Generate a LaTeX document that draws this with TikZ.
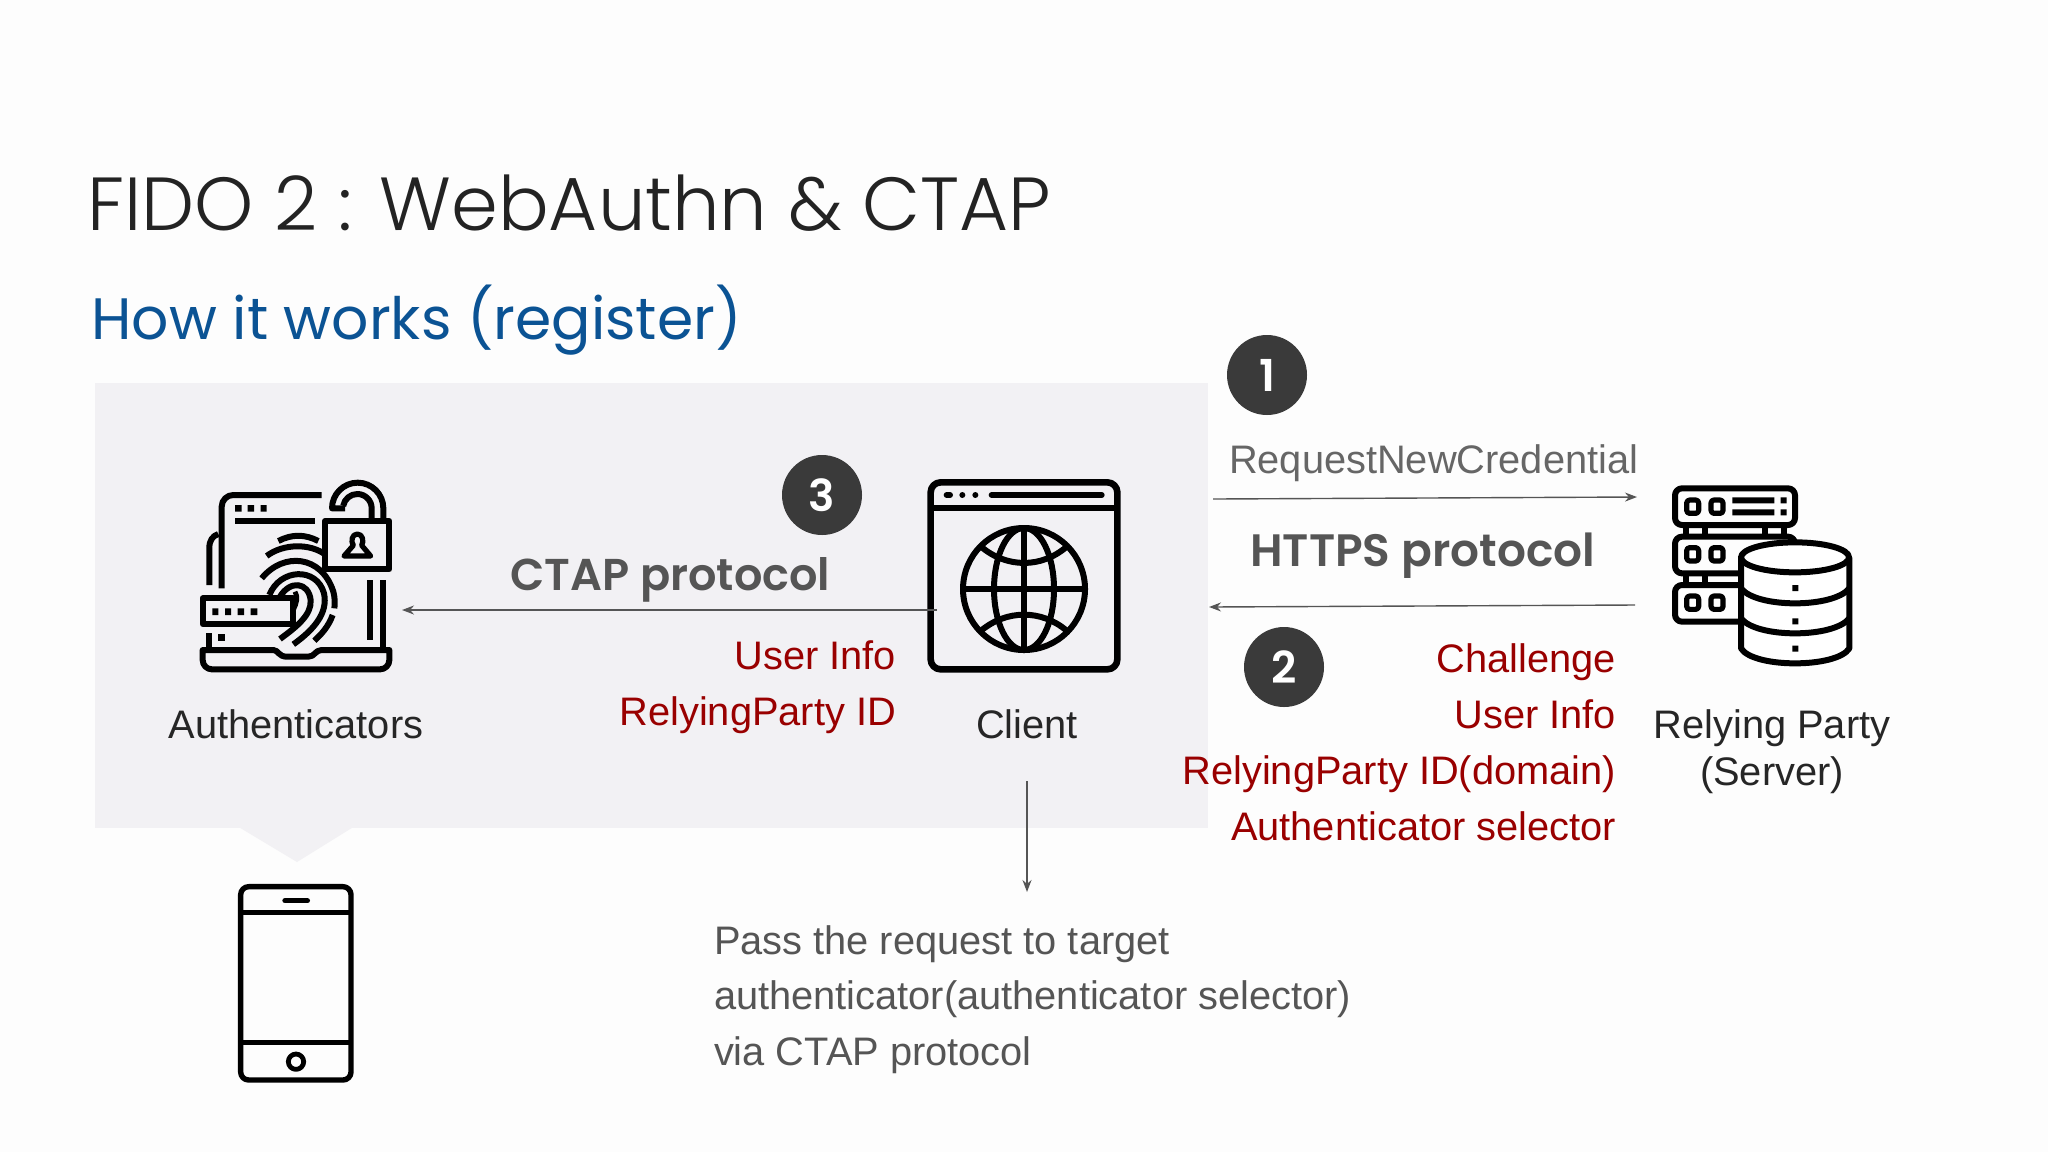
\documentclass[tikz,border=0pt]{standalone}
\usepackage{fontspec}
\usetikzlibrary{arrows.meta}
\setmainfont{Liberation Sans}
\newfontfamily\headlight{Poppins Light}
\newfontfamily\headreg{Poppins}
\newfontfamily\headbold{Poppins SemiBold}
\definecolor{panelc}{HTML}{F2F1F4}
\definecolor{bgc}{HTML}{FDFDFD}
\definecolor{titlec}{HTML}{232323}
\definecolor{subc}{HTML}{0B5394}
\definecolor{redc}{HTML}{990000}
\definecolor{grayc}{HTML}{555555}
\definecolor{lgrayc}{HTML}{666666}
\definecolor{circc}{HTML}{3A3A3A}
\definecolor{arrowc}{HTML}{555555}
\tikzset{
  body/.style={font=\fontsize{19.9}{24}\selectfont,inner sep=0pt,outer sep=0pt},
  lbl/.style={body,anchor=base,text=black!85},
  redr/.style={body,anchor=base east,text=redc},
  passl/.style={body,anchor=base west,text=grayc},
  badge/.style={circle,fill=circc,minimum size=40pt,inner sep=0pt,text=white,font=\headbold\fontsize{22}{24}\selectfont},
  conn/.style={draw=arrowc,line width=0.7pt,-{Stealth[length=6pt,width=4.5pt]}},
  ik/.style={draw=black,line width=3pt,line cap=butt,line join=round},
  iks/.style={fill=black},
}
\begin{document}
\begin{tikzpicture}[x=0.5pt,y=-0.5pt]
\useasboundingbox (0,0) rectangle (2048,1152);
\fill[bgc] (0,0) rectangle (2048,1152);
\fill[panelc] (95,383) rectangle (1208,828);
\fill[panelc] (237,826) -- (297,862) -- (355,826) -- cycle;

\node[anchor=base west,inner sep=0pt,text=titlec,font=\headlight\fontsize{37.6}{44}\selectfont] (title) at (87,230) {FIDO 2 : WebAuthn \& CTAP};
\node[anchor=base west,inner sep=0pt,text=subc,font=\headreg\fontsize{29.2}{34}\selectfont] (sub) at (91,339) {How it works (register)};

\node[badge] (b1) at (1267,375) {1};
\node[badge] (b3) at (822,495) {3};
\node[badge] (b2) at (1284,667) {2};

\node[anchor=base west,body,text=lgrayc] (req) at (1229,473) {RequestNewCredential};
\node[anchor=base west,inner sep=0pt,text=grayc,font=\headbold\fontsize{22.7}{26}\selectfont] (https) at (1250,566) {HTTPS protocol};
\node[anchor=base west,inner sep=0pt,text=grayc,font=\headbold\fontsize{22.3}{26}\selectfont] (ctap) at (510,590) {CTAP protocol};

\node[redr] (ui1) at (896,669) {User Info};
\node[redr] (rp1) at (896,725) {RelyingParty ID};
\node[redr] (ch) at (1616,672) {Challenge};
\node[redr] (ui2) at (1616,728) {User Info};
\node[redr] (rp2) at (1616,784) {RelyingParty ID(domain)};
\node[redr] (as) at (1616,840) {Authenticator selector};

\node[lbl] (auth) at (296,738) {Authenticators};
\node[lbl] (client) at (1027,738) {Client};
\node[lbl] (rparty) at (1772,738) {Relying Party};
\node[lbl] (server) at (1772,785) {(Server)};

\node[passl] (p1) at (714,954) {Pass the request to target};
\node[passl] (p2) at (714,1009) {authenticator(authenticator selector)};
\node[passl] (p3) at (714,1065) {via CTAP protocol};

% connector ends
\coordinate (reqs) at (1213,499);
\coordinate (reqe) at (1637,497);
\coordinate (rets) at (1635,605);
\coordinate (rete) at (1209,607);
\coordinate (cs) at (937,610);
\coordinate (ce) at (402,610);
\coordinate (ds) at (1027,781);
\coordinate (de) at (1027,892);
\draw[conn] (reqs) -- (reqe);
\draw[conn] (rets) -- (rete);
\draw[conn] (ds) -- (de);

% Authenticator icon
\begin{scope}[shift={(180,460)},x=0.16667pt,y=-0.16667pt]
  \draw[ik] (425,105) -- (160,105) arc[start angle=-90,end angle=-180,radius=35] -- (125,385);
  \fill[iks] (165,135) rectangle (185,155) (203,135) rectangle (222,155) (242,135) rectangle (260,155);
  \fill[iks] (165,173) rectangle (405,192);
  \draw[ik] (88,375) -- (88,265) .. controls (88,240) and (98,228) .. (115,222);
  % fingerprint
  \draw[ik] (295,243) .. controls (335,222) and (375,222) .. (415,243);
  \draw[ik] (260,288) .. controls (310,250) and (390,250) .. (435,283);
  \draw[ik] (245,355) .. controls (310,275) and (425,285) .. (460,395) .. controls (465,415) and (465,430) .. (463,445);
  \draw[ik] (268,405) .. controls (300,325) and (410,320) .. (432,400) .. controls (445,460) and (400,510) .. (340,553);
  \draw[ik] (300,410) .. controls (330,360) and (385,365) .. (392,420) .. controls (395,465) and (350,500) .. (300,537);
  \draw[ik] (458,465) .. controls (445,500) and (425,522) .. (403,542);
  \draw[ik,line width=2.4pt] (345,395) .. controls (355,410) and (350,430) .. (340,450);
  % lock
  \draw[ik,fill=panelc] (435,183) rectangle (628,328);
  \draw[ik] (610,175) -- (610,145) arc[start angle=0,end angle=-180,radius=77] -- (495,145);
  \draw[ik] (575,175) -- (575,145) arc[start angle=0,end angle=-170,radius=43];
  \draw[draw=black,line width=2.6pt,fill=panelc,line join=round] (532,222) .. controls (515,222) and (512,245) .. (520,256) -- (492,288) -- (572,288) -- (545,256) .. controls (552,245) and (549,222) .. (532,222) -- cycle;
  % right side
  \draw[ik] (570,360) -- (570,540);
  \draw[ik] (608,360) -- (608,565);
  % base
  \draw[ik,fill=panelc] (68,570) -- (280,570) .. controls (295,570) and (295,590) .. (320,590) -- (385,590) .. controls (405,590) and (405,570) .. (425,570) -- (628,570) -- (628,600) arc[start angle=0,end angle=90,radius=28] -- (96,628) arc[start angle=90,end angle=180,radius=28] -- cycle;
  \draw[ik] (88,520) -- (88,565);
  \fill[iks] (115,522) rectangle (135,542);
  % password
  \draw[ik,fill=panelc] (68,415) rectangle (340,492);
  \fill[iks] (97,445) rectangle (115,465) (135,445) rectangle (153,465) (173,445) rectangle (192,465) (212,445) rectangle (232,465);
\end{scope}

% Client icon
\begin{scope}[shift={(900,460)},x=0.16667pt,y=-0.16667pt]
  \draw[ik,line width=3.3pt,rounded corners=5pt] (92,67) rectangle (652,628);
  \draw[ik] (92,143) -- (652,143);
  \draw[ik,line cap=round] (140,105) -- (150,105);
  \fill[iks] (187,105) circle[radius=9] (226,105) circle[radius=9];
  \draw[ik,line cap=round] (275,105) -- (605,105);
  \draw[ik] (372,387) circle[radius=183];
  \draw[ik] (372,387) ellipse[x radius=90,y radius=183];
  \draw[ik] (189,387) -- (555,387);
  \draw[ik] (372,204) -- (372,570);
  \draw[ik] (243,260) .. controls (320,325) and (425,325) .. (500,260);
  \draw[ik] (243,512) .. controls (320,448) and (425,448) .. (500,512);
\end{scope}
\draw[conn] (cs) -- (ce);

% Server icon
\begin{scope}[shift={(1640,470)},x=0.16667pt,y=-0.16667pt]
  \draw[ik,rounded corners=3.5pt] (105,55) rectangle (465,165);
  \draw[ik,rounded corners=3.5pt] (105,200) rectangle (465,310);
  \draw[ik,rounded corners=3.5pt] (105,345) rectangle (400,455);
  \foreach \yy in {110,253,398}{
    \draw[ik,line width=2.6pt,rounded corners=1.5pt] (140,\yy-20) rectangle ++(36,40);
    \draw[ik,line width=2.6pt,rounded corners=1.5pt] (213,\yy-20) rectangle ++(36,40);
  }
  \fill[iks] (277,82) rectangle (403,100) (277,118) rectangle (403,136);
  \fill[iks] (422,82) rectangle (440,100) (422,118) rectangle (440,136);
  \draw[ik,line width=2.6pt] (138,165) -- (138,200) (195,165) -- (195,200) (375,165) -- (375,200) (432,165) -- (432,200) (138,310) -- (138,345) (195,310) -- (195,345);
  % database
  \fill[white] (303,262) -- (303,535) .. controls (340,600) and (590,600) .. (628,535) -- (628,262) -- cycle;
  \draw[ik,fill=white] (465,262) ellipse[x radius=162,y radius=45];
  \draw[ik] (303,262) -- (303,535) .. controls (340,595) and (590,595) .. (628,535) -- (628,262);
  \draw[ik] (303,355) .. controls (350,415) and (580,415) .. (628,355);
  \draw[ik] (303,445) .. controls (350,505) and (580,505) .. (628,445);
  \fill[iks] (457,345) rectangle (475,363) (457,445) rectangle (475,463) (457,527) rectangle (475,545);
\end{scope}

% Phone icon
\begin{scope}[shift={(200,800)},x=0.16667pt,y=-0.16667pt]
  \draw[ik,line width=2.7pt,rounded corners=4pt] (122,260) rectangle (453,840);
  \draw[ik,line width=2.7pt] (122,337) -- (453,337) (122,728) -- (453,728);
  \draw[ik,line width=2.7pt,line cap=round] (255,302) -- (322,302);
  \draw[ik,line width=2.4pt] (288,785) circle[radius=23];
\end{scope}
\end{tikzpicture}
\end{document}
